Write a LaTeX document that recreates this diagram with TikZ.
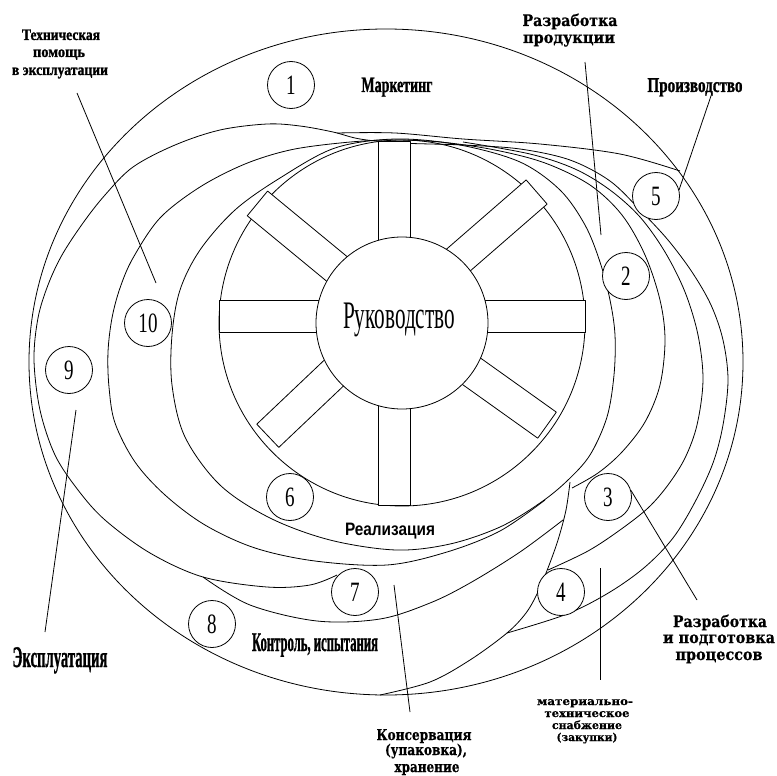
\documentclass[tikz,border=0pt]{standalone}
\usepackage{fontspec}
\usepackage{graphicx}
\setmainfont{Liberation Serif}
\newfontfamily\heavyserif{Liberation Serif Bold}[FakeBold=1.2]
\newfontfamily\wideserif{DejaVu Serif Bold}[FakeBold=0.6]
\newfontfamily\labelsans{Liberation Sans}
% stretch or squeeze a label to a given width, keeping its height
\newcommand\fitw[2]{\resizebox{#1}{\height}{#2}}
\newcommand\numtxt[1]{\scalebox{0.68}[1]{\fontsize{28}{28}\selectfont #1}}
\begin{document}
\begin{tikzpicture}[x=1pt, y=-1pt, line width=0.8pt, line join=round,
  num/.style={draw, circle, fill=white, minimum size=47pt, inner sep=0pt},
  lbl/.style={inner sep=0pt, anchor=base},
  band/.style={line width=0.8pt},
  leader/.style={line width=0.8pt}]
\fill[white] (0,0) rectangle (777,776);
\useasboundingbox (0,0) rectangle (777,776);

% outer ring
\draw[band] (386,362) ellipse [x radius=357, y radius=333];

% second loop: upper left, over the top, down the right side
\draw[band] plot[smooth, tension=0.55] coordinates {
  (337,575) (310,585) (267,587) (203,577) (150,553) (105,520) (78,490)
  (55,455) (40,410) (34,360) (38,318) (48,285) (62,255) (83,223) (105,195)
  (133,167) (175,145) (220,130) (267,124) (300,126) (333,132) (360,139)
  (400,143) (463,145) (520,149) (570,160) (610,181) (641,211) (668,240)
  (692,272) (711,305) (723,340) (728,380) (723,425) (713,463) (695,502)
  (673,538) (645,567) (610,592) (567,614) (507,633)};

% production band boundary
\draw[band] plot[smooth, tension=0.55] coordinates {
  (337,133) (395,133) (463,139) (540,144) (620,154) (680,171)};

% inner right arc
\draw[band] plot[smooth, tension=0.55] coordinates {
  (463,142) (530,154) (575,169) (610,190) (640,217) (665,252) (685,292)
  (698,335) (703,380) (697,425) (685,458) (668,485) (648,508) (620,530)
  (588,551) (548,570)};

% third loop
\draw[band] plot[smooth, tension=0.55] coordinates {
  (545,500) (500,531) (447,552) (387,565) (315,561) (255,548) (205,525)
  (165,495) (135,462) (115,423) (109,387) (108,352) (112,318) (120,288)
  (133,258) (160,218) (200,187) (245,164) (290,150) (340,143) (387,140)
  (440,142) (495,150) (545,163) (590,185) (622,215) (645,255) (660,300)
  (665,340) (660,385) (645,422) (622,452) (598,473) (572,488)};

% ring round the wheel
\draw[band] plot[smooth cycle, tension=0.55] coordinates {
  (396,139) (460,145) (520,162) (560,190) (585,225) (600,262) (610,300)
  (615,335) (614,375) (607,417) (590,455) (567,481) (540,503) (500,527)
  (450,544) (396,550) (330,540) (270,518) (220,485) (185,437) (172,385)
  (172,335) (180,290) (200,250) (235,210) (280,178) (335,148)};

% lower arcs
\draw[band] plot[smooth, tension=0.55] coordinates {
  (203,577) (250,605) (317,621) (380,619) (430,603) (470,583) (520,552)
  (563,520)};
\draw[band] plot[smooth, tension=0.55] coordinates {
  (570,482) (566,510) (558,540) (548,568) (538,592) (526,613) (507,633)
  (470,660) (430,682) (380,695)};

% wheel
\draw[band] (402,323) circle [radius=183];
\foreach \a/\l in {0/191, 41/189, 90/175, 140.5/177, 180/175, 223.5/174, 270/189, 324.5/188}{
  \begin{scope}[shift={(394,316)}, rotate=\a]
    \draw[band, fill=white] (0,-16) rectangle (\l,16);
  \end{scope}
}
\draw[band, fill=white] (402,323) circle [radius=86];
\node[lbl] (hub) at (399,328) {\fitw{112pt}{\fontsize{39}{39}\selectfont Руководство}};

% numbered stages
\node[num] (c1) at (291,85) {\numtxt{1}};
\node[num] (c2) at (626,276) {\numtxt{2}};
\node[num] (c3) at (608,497) {\numtxt{3}};
\node[num] (c4) at (561,592) {\numtxt{4}};
\node[num] (c5) at (656,196) {\numtxt{5}};
\node[num] (c6) at (290,497) {\numtxt{6}};
\node[num] (c7) at (355,592) {\numtxt{7}};
\node[num] (c8) at (212,624) {\numtxt{8}};
\node[num] (c9) at (69,370) {\numtxt{9}};
\node[num] (c10) at (148,323) {\numtxt{10}};

% labels
\node[lbl] (tmark) at (397,92) {\fitw{71pt}{\fontsize{22}{22}\selectfont\heavyserif Маркетинг}};
\node[lbl] (tprod) at (695,92) {\fitw{95pt}{\fontsize{21}{21}\selectfont\heavyserif Производство}};
\node[lbl] (tctrl) at (315,651) {\fitw{126pt}{\fontsize{27}{27}\selectfont\heavyserif Контроль, испытания}};
\node[lbl] (texpl) at (60,667) {\fitw{95pt}{\fontsize{30}{30}\selectfont\heavyserif Эксплуатация}};
\node[lbl] (treal) at (390,535) {\fitw{90pt}{\fontsize{18}{18}\selectfont\labelsans\bfseries Реализация}};

\node[lbl] (tta) at (61,40) {\fitw{78pt}{\fontsize{16}{16}\selectfont\heavyserif Техническая}};
\node[lbl] (ttb) at (59,57) {\fitw{52pt}{\fontsize{16}{16}\selectfont\heavyserif помощь}};
\node[lbl] (ttc) at (60,75) {\fitw{96pt}{\fontsize{16}{16}\selectfont\heavyserif в эксплуатации}};

\node[lbl] (tda) at (570,26) {\fitw{95pt}{\fontsize{16}{16}\selectfont\wideserif Разработка}};
\node[lbl] (tdb) at (569,43) {\fitw{92pt}{\fontsize{16}{16}\selectfont\wideserif продукции}};

\node[lbl] (tpa) at (720,627) {\fitw{94pt}{\fontsize{16}{16}\selectfont\wideserif Разработка}};
\node[lbl] (tpb) at (719,643) {\fitw{112pt}{\fontsize{16}{16}\selectfont\wideserif и подготовка}};
\node[lbl] (tpc) at (719,660) {\fitw{87pt}{\fontsize{16}{16}\selectfont\wideserif процессов}};

\node[lbl] (tka) at (424,740) {\fitw{95pt}{\fontsize{15}{15}\selectfont\wideserif Консервация}};
\node[lbl] (tkb) at (426,755) {\fitw{82pt}{\fontsize{15}{15}\selectfont\wideserif (упаковка),}};
\node[lbl] (tkc) at (427,772) {\fitw{65pt}{\fontsize{15}{15}\selectfont\wideserif хранение}};

\node[lbl] (tma) at (585,705) {\fitw{96pt}{\fontsize{11}{11}\selectfont\wideserif материально-}};
\node[lbl] (tmb) at (587,717) {\fitw{85pt}{\fontsize{11}{11}\selectfont\wideserif техническое}};
\node[lbl] (tmc) at (587,729) {\fitw{70pt}{\fontsize{11}{11}\selectfont\wideserif снабжение}};
\node[lbl] (tmd) at (587,741) {\fitw{61pt}{\fontsize{11}{11}\selectfont\wideserif (закупки)}};

% leader lines
\coordinate (l10a) at (77,93);   \coordinate (l10b) at (156,283);
\coordinate (l2a) at (585,62);   \coordinate (l2b) at (601,235);
\coordinate (l5a) at (712,93);
\coordinate (l3b) at (697,600);
\coordinate (l4a) at (600,568);  \coordinate (l4b) at (600,680);
\coordinate (l7a) at (394,585);  \coordinate (l7b) at (410,712);
\coordinate (l9a) at (76,410);   \coordinate (l9b) at (45,632);
\draw[leader] (l10a) -- (l10b);
\draw[leader] (l2a) -- (l2b);
\draw[leader] (l5a) -- (c5.15);
\draw[leader] (c3.16) -- (l3b);
\draw[leader] (l4a) -- (l4b);
\draw[leader] (l7a) -- (l7b);
\draw[leader] (l9a) -- (l9b);
\end{tikzpicture}
\end{document}
